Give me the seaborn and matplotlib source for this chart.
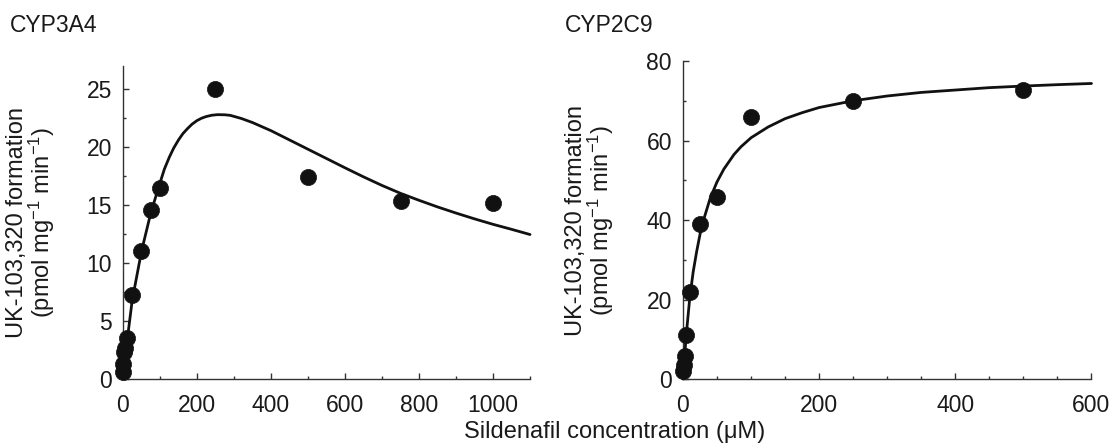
import numpy as np
import pandas as pd
import matplotlib
matplotlib.use('Agg')
import matplotlib.pyplot as plt
from matplotlib.ticker import MultipleLocator
import seaborn as sns

# CYP3A4 measured points (sildenafil uM -> pmol/mg/min)
cyp3a4_conc = [0.5, 1, 2.5, 5, 10, 25, 50, 75, 100, 250, 500, 750, 1000]
cyp3a4_rate = [0.6, 1.3, 2.3, 2.7, 3.5, 7.2, 11.0, 14.6, 16.5, 25.0, 17.4, 15.3, 15.2]

# CYP3A4 fitted curve
cyp3a4_fit_conc = [0, 5, 10, 25, 50, 75, 100, 112, 125, 137, 150, 162, 175, 187,
                   200, 212, 225, 240, 255, 275, 290, 320, 350, 400, 450, 500,
                   550, 600, 650, 700, 750, 800, 850, 900, 950, 1000, 1050, 1100]
cyp3a4_fit_rate = [0, 1.6, 3.0, 6.8, 11.0, 14.3, 16.9, 18.1, 19.1, 19.9, 20.6,
                   21.15, 21.6, 21.97, 22.27, 22.47, 22.62, 22.73, 22.78, 22.77,
                   22.72, 22.45, 22.1, 21.4, 20.6, 19.8, 19.0, 18.2, 17.42, 16.68,
                   16.0, 15.4, 14.83, 14.3, 13.8, 13.33, 12.9, 12.45]

# CYP2C9 measured points
cyp2c9_conc = [0.5, 1, 2.5, 5, 10, 25, 50, 100, 250, 500]
cyp2c9_rate = [2.1, 3.4, 5.9, 11.1, 22.0, 39.1, 45.8, 65.9, 70.0, 72.7]

# CYP2C9 fitted curve
cyp2c9_fit_conc = [0, 2.5, 5, 10, 15, 20, 25, 30, 35, 40, 50, 60, 75, 85, 100,
                   125, 150, 175, 200, 250, 300, 350, 400, 450, 500, 550, 600]
cyp2c9_fit_rate = [0, 6.0, 11.5, 20.5, 27.0, 32.0, 36.4, 39.9, 42.7, 45.5, 49.6,
                   52.8, 56.5, 58.4, 60.7, 63.4, 65.5, 67.0, 68.3, 70.0, 71.2,
                   72.1, 72.7, 73.3, 73.7, 74.05, 74.35]

sns.set_style('ticks')
plt.rcParams['font.family'] = ['Liberation Sans', 'DejaVu Sans']
plt.rcParams['mathtext.default'] = 'regular'

fig = plt.figure(figsize=(11.14, 4.46), dpi=100)
ax1 = fig.add_axes([0.1104, 0.1502, 0.3654, 0.7025])
ax2 = fig.add_axes([0.6131, 0.1502, 0.3667, 0.7130])

ylab = 'UK-103,320 formation\n(pmol mg$^{-1}$ min$^{-1}$)'

panels = [
    (ax1, cyp3a4_conc, cyp3a4_rate, cyp3a4_fit_conc, cyp3a4_fit_rate,
     (0, 1100), (0, 27), 200, 100, 5, 2.5),
    (ax2, cyp2c9_conc, cyp2c9_rate, cyp2c9_fit_conc, cyp2c9_fit_rate,
     (0, 600), (0, 80), 200, 50, 20, 10),
]

for ax, xc, yr, fx, fy, xl, yl, xmaj, xmin, ymaj, ymin in panels:
    pts = pd.DataFrame({'conc': xc, 'rate': yr})
    fit = pd.DataFrame({'conc': fx, 'rate': fy})
    sns.lineplot(data=fit, x='conc', y='rate', ax=ax, color='#111111', lw=2.0,
                 sort=False, errorbar=None, clip_on=False, zorder=2)
    sns.scatterplot(data=pts, x='conc', y='rate', ax=ax, color='#111111', s=135,
                    edgecolor='#111111', linewidth=0.5, clip_on=False, zorder=3)
    ax.set_xlim(*xl)
    ax.set_ylim(*yl)
    ax.xaxis.set_major_locator(MultipleLocator(xmaj))
    ax.xaxis.set_minor_locator(MultipleLocator(xmin))
    ax.yaxis.set_major_locator(MultipleLocator(ymaj))
    ax.yaxis.set_minor_locator(MultipleLocator(ymin))
    sns.despine(ax=ax)
    for sp in ['left', 'bottom']:
        ax.spines[sp].set_color('#333333')
        ax.spines[sp].set_linewidth(1.0)
    ax.tick_params(which='both', direction='in', color='#333333', width=1.0,
                   labelsize=16.5, labelcolor='#1a1a1a')
    ax.tick_params(which='major', length=4.5)
    ax.tick_params(which='minor', length=2.5)
    ax.tick_params(axis='x', which='major', pad=11)
    ax.tick_params(axis='y', which='major', pad=8)
    ax.set_xlabel('')
    ax.set_ylabel(ylab, fontsize=17, linespacing=0.95, color='#1a1a1a')
    ax.yaxis.set_label_coords(-0.163, 0.5)

fig.text(10 / 1114, 1 - 14 / 446, 'CYP3A4', fontsize=16.5, va='top', ha='left',
         color='#1a1a1a')
fig.text(565 / 1114, 1 - 14 / 446, 'CYP2C9', fontsize=16.5, va='top', ha='left',
         color='#1a1a1a')
fig.text(615 / 1114, 1 - 432 / 446, 'Sildenafil concentration (μM)', fontsize=17,
         ha='center', va='center', color='#1a1a1a')

fig.savefig('out.png', dpi=100)
